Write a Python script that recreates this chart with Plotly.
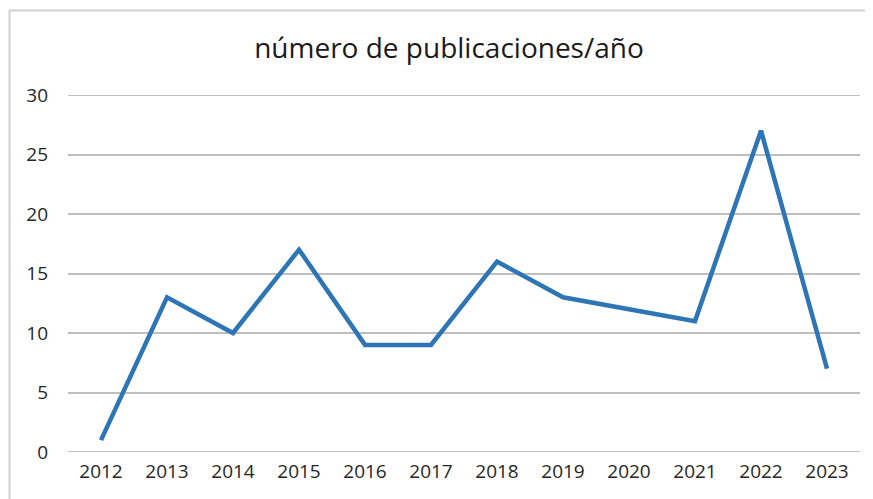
import plotly.graph_objects as go

years = ["2012", "2013", "2014", "2015", "2016", "2017", "2018", "2019", "2020", "2021", "2022", "2023"]
publicaciones = [1, 13, 10, 17, 9, 9, 16, 13, 12, 11, 27, 7]
y_ticks = [0, 5, 10, 15, 20, 25, 30]
title_text = "número de publicaciones/año"

W, H = 873, 499
OFF = 8  # page body margin offset
# target page coordinates
px_left, px_right, py_top, py_bottom = 68, 860, 95, 452
ml = px_left - OFF
mt = py_top - OFF
mr = W - (px_right - OFF)
mb = H - (py_bottom - OFF)
pw, ph = W - ml - mr, H - mt - mb

fig = go.Figure()
fig.add_trace(go.Scatter(
    x=years, y=publicaciones, mode="lines",
    line=dict(color="#2E75B6", width=4.5),
    hoverinfo="x+y",
))

grid_style = dict(color="#BFBFBF", width=2)
edge_lines = [
    dict(type="line", xref="paper", yref="y", x0=0, x1=1,
         y0=v, y1=v, line=grid_style, layer="below")
    for v in (y_ticks[0], y_ticks[-1])
]

fig.update_layout(
    width=W, height=H,
    margin=dict(l=ml, r=mr, t=mt, b=mb),
    paper_bgcolor="white", plot_bgcolor="white",
    showlegend=False,
    font=dict(family="Open Sans, sans-serif", color="#262626"),
    title=dict(text=title_text, x=(449 - OFF) / W, xanchor="center",
               y=1 - (48 - OFF) / H, yanchor="middle",
               font=dict(size=28, color="#1a1a1a")),
    xaxis=dict(type="category", range=[-0.5, 11.5], showgrid=False,
               showline=False, ticks="", zeroline=False,
               tickfont=dict(size=19, color="#262626"), ticklabelstandoff=6),
    yaxis=dict(range=[y_ticks[0], y_ticks[-1]], tickvals=y_ticks, showgrid=True,
               gridcolor="#BFBFBF", gridwidth=2, zeroline=False,
               showline=False, ticks="", ticklabelstandoff=19,
               tickfont=dict(size=19, color="#262626")),
    shapes=[
        dict(type="rect", xref="paper", yref="paper",
             x0=(9.5 - OFF - ml) / pw, x1=(W + 20 - ml) / pw,
             y0=-(mb + 20) / ph, y1=(H - mb - (10.5 - OFF)) / ph,
             line=dict(color="#D0D0D0", width=2), layer="below"),
    ] + edge_lines,
)

fig.write_html("out.html")
